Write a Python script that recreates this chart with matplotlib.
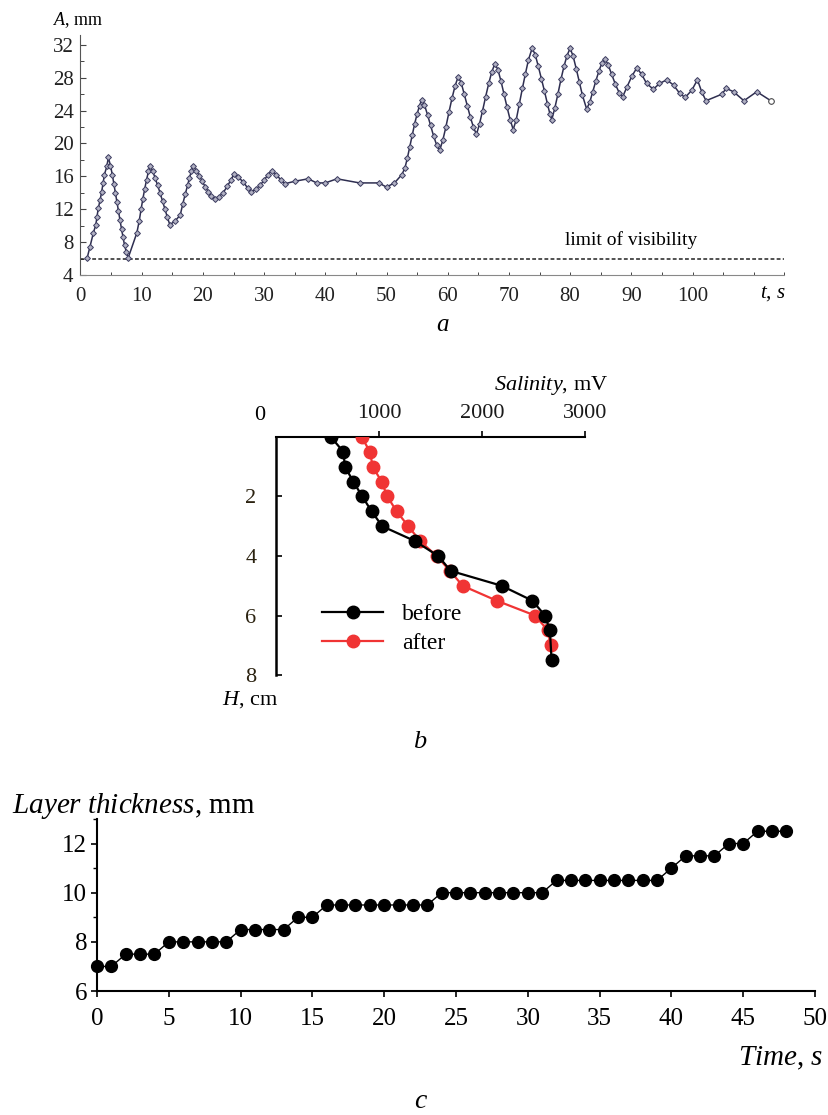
import matplotlib
matplotlib.use('Agg')
import matplotlib.pyplot as plt
from matplotlib.ticker import MultipleLocator

plt.rcParams['font.family'] = ['Liberation Serif', 'DejaVu Serif']
plt.rcParams['mathtext.fontset'] = 'custom'
plt.rcParams['mathtext.rm'] = 'Liberation Serif'
plt.rcParams['mathtext.it'] = 'Liberation Serif:italic'

# ---- panel a: amplitude vs time ----
t_a = [1.1, 1.55, 2.1, 2.5, 2.7, 2.9, 3.2, 3.45, 3.7, 3.9, 4.3, 4.55,
       4.9, 5.2, 5.45, 5.7, 5.95, 6.2, 6.45, 6.7, 6.95, 7.2, 7.5, 7.8,
       9.2, 9.6, 9.9, 10.2, 10.5, 10.8, 11.1, 11.4,
       11.8, 12.2, 12.6, 13.0, 13.4, 13.8, 14.2, 14.6,
       15.5, 16.3, 16.7, 17.1, 17.5, 17.8, 18.1, 18.4,
       18.9, 19.4, 19.9, 20.4, 20.9, 21.4, 21.9,
       22.6, 23.3, 24.0, 24.6, 25.1, 25.8, 26.6, 27.3, 27.9,
       28.6, 29.3, 30.0, 30.6, 31.3,
       32.0, 32.7, 33.4, 35.0, 37.2, 38.6, 40.0, 41.9, 45.6, 48.7, 50.0, 51.3, 52.5,
       53.0, 53.4, 53.8, 54.2, 54.6, 55.0, 55.4, 55.75,
       56.2, 56.7, 57.2, 57.7, 58.2, 58.7,
       59.2, 59.7, 60.2, 60.7, 61.2, 61.7,
       62.2, 62.7, 63.2, 63.7, 64.2, 64.7,
       65.2, 65.7, 66.2, 66.7, 67.2, 67.7,
       68.2, 68.7, 69.2, 69.7, 70.2, 70.7,
       71.2, 71.7, 72.2, 72.7, 73.2, 73.8,
       74.3, 74.8, 75.3, 75.8, 76.3, 76.7, 77.0,
       77.5, 78.0, 78.5, 79.0, 79.5, 80.0,
       80.5, 81.0, 81.5, 82.0, 82.7,
       83.2, 83.7, 84.2, 84.7, 85.2, 85.7,
       86.2, 86.8, 87.4, 88.0, 88.6,
       89.3, 90.1, 90.9, 91.7, 92.5, 93.6, 94.6, 95.8, 96.9, 97.9, 98.8,
       99.9, 100.8, 101.5, 102.2, 104.8, 105.5, 106.7, 108.4, 110.5, 112.8]
A_a = [6.1, 7.45, 9.1, 10.1, 11.1, 12.1, 13.1, 14.1, 15.2, 16.2, 17.2, 18.3,
       17.3, 16.2, 15.1, 14.0, 12.9, 11.8, 10.7, 9.6, 8.6, 7.6, 6.8, 6.1,
       9.1, 10.6, 12.0, 13.3, 14.5, 15.6, 16.6, 17.3,
       16.6, 15.8, 14.9, 14.0, 13.0, 12.0, 11.0, 10.1,
       10.6, 11.3, 12.6, 13.8, 14.9, 15.8, 16.6, 17.3,
       16.7, 16.1, 15.4, 14.7, 14.1, 13.6, 13.3,
       13.5, 14.0, 14.8, 15.6, 16.3, 15.9, 15.3, 14.6, 14.1,
       14.4, 14.9, 15.5, 16.2, 16.7,
       16.2, 15.6, 15.1, 15.4, 15.7, 15.2, 15.2, 15.7, 15.2, 15.2, 14.7, 15.2, 16.2,
       17.0, 18.2, 19.6, 21.0, 22.4, 23.6, 24.6, 25.3,
       24.7, 23.5, 22.2, 20.9, 19.8, 19.2,
       20.4, 22.0, 23.8, 25.5, 27.0, 28.1,
       27.4, 26.0, 24.6, 23.2, 22.0, 21.1,
       22.4, 24.0, 25.7, 27.3, 28.7, 29.7,
       29.0, 27.6, 26.0, 24.4, 22.9, 21.7,
       22.9, 24.8, 26.7, 28.5, 30.2, 31.6,
       30.8, 29.4, 27.9, 26.4, 24.8, 23.6, 22.9,
       24.3, 26.0, 27.8, 29.4, 30.7, 31.6,
       30.6, 29.1, 27.5, 25.9, 24.2,
       25.0, 26.3, 27.6, 28.8, 29.8, 30.3,
       29.6, 28.4, 27.2, 26.2, 25.7,
       26.9, 28.2, 29.2, 28.4, 27.3, 26.6, 27.3, 27.75, 27.1, 26.1, 25.6,
       26.5, 27.75, 26.3, 25.2, 26.0, 26.7, 26.3, 25.2, 26.3, 25.2]
visibility_limit = 6
a_xticks = [0, 10, 20, 30, 40, 50, 60, 70, 80, 90, 100]
a_yticks = [4, 8, 12, 16, 20, 24, 28, 32]

# ---- panel b: salinity profiles ----
depth_before = [0, 0.5, 1, 1.5, 2, 2.5, 3, 3.5, 4, 4.5, 5, 5.5, 6, 6.5, 7.5]
sal_before = [534, 654, 670, 751, 838, 929, 1032, 1350, 1576, 1696, 2191, 2489, 2612, 2660, 2676]
depth_after = [0, 0.5, 1, 1.5, 2, 2.5, 3, 3.5, 4, 4.5, 5, 5.5, 6, 6.5, 7]
sal_after = [832, 913, 939, 1026, 1081, 1172, 1285, 1400, 1560, 1690, 1812, 2142, 2515, 2640, 2667]
b_xticks = [1000, 2000, 3000]
b_yticks = [2, 4, 6, 8]

# ---- panel c: layer thickness ----
t_c = list(range(49))
thick_c = [7, 7, 7.5, 7.5, 7.5, 8, 8, 8, 8, 8, 8.5, 8.5, 8.5, 8.5, 9, 9,
           9.5, 9.5, 9.5, 9.5, 9.5, 9.5, 9.5, 9.5, 10, 10, 10, 10, 10, 10, 10, 10,
           10.5, 10.5, 10.5, 10.5, 10.5, 10.5, 10.5, 10.5, 11, 11.5, 11.5, 11.5,
           12, 12, 12.5, 12.5, 12.5]
c_xticks = [0, 5, 10, 15, 20, 25, 30, 35, 40, 45, 50]
c_yticks = [6, 8, 10, 12]

fig = plt.figure(figsize=(8.29, 11.15), dpi=100)

# panel a
ax = fig.add_axes([0.0971, 0.7534, 0.849, 0.2152])
ax.plot(t_a, A_a, color='#2e2e50', lw=1.1, marker='D', ms=3.0,
        mfc='#b0b0c2', mec='#3c3c60', mew=0.7, zorder=3)
ax.plot([112.8], [25.2], marker='o', ms=4, mfc='white', mec='#555555', mew=0.8, zorder=4)
ax.axhline(visibility_limit, color='#222222', lw=1.1, ls=(0, (2.5, 1.5)))
ax.set_xlim(0, 115)
ax.set_ylim(4, 33.2)
ax.set_xticks(a_xticks)
ax.set_yticks(a_yticks)
ax.xaxis.set_minor_locator(MultipleLocator(5))
ax.yaxis.set_minor_locator(MultipleLocator(2))
ax.tick_params(axis='both', which='both', direction='in', colors='#444444', labelcolor='#222222')
ax.tick_params(axis='y', which='major', length=4, width=0.8, labelsize=15, pad=5)
ax.tick_params(axis='y', which='minor', length=3, width=0.7)
ax.tick_params(axis='x', which='both', length=2, width=0.7, labelsize=15, pad=9)
for s in ['top', 'right']:
    ax.spines[s].set_visible(False)
ax.spines['left'].set_color('#555555')
ax.spines['bottom'].set_color('#888888')
ax.spines['bottom'].set_linewidth(0.8)
fig.text(0.0639, 0.9776, r'$A$, mm', fontsize=13, ha='left', va='baseline')
fig.text(0.9324, 0.7372, r'$t$, $s$', fontsize=15, ha='center', va='center')
fig.text(0.761, 0.7848, 'limit of visibility', fontsize=14, ha='center', va='center')
fig.text(0.5344, 0.7085, r'$a$', fontsize=18, ha='center', va='center')

# panel b
bx = fig.add_axes([0.3329, 0.3946, 0.3727, 0.2135])
bx.plot(sal_after, depth_after, color='#f03434', lw=1.6, marker='o', ms=9, label='after', zorder=3)
bx.plot(sal_before, depth_before, color='black', lw=1.6, marker='o', ms=9, label='before', zorder=4)
bx.set_xlim(0, 3000)
bx.set_ylim(8, 0)
bx.xaxis.tick_top()
bx.set_xticks(b_xticks)
bx.set_yticks(b_yticks)
bx.tick_params(axis='x', direction='out', length=4, width=1.2, labelsize=16, pad=6, labelcolor='#1a1a1a')
bx.tick_params(axis='y', direction='in', length=4, width=1.2, labelsize=16, pad=14, labelcolor='#2b2210')
for s in ['bottom', 'right']:
    bx.spines[s].set_visible(False)
bx.spines['top'].set_linewidth(1.5)
bx.spines['left'].set_linewidth(1.8)
h, l = bx.get_legend_handles_labels()
bx.legend([h[1], h[0]], [l[1], l[0]], loc='lower left', bbox_to_anchor=(0.08, 0.0),
          frameon=False, fontsize=17, handlelength=2.6, labelspacing=0.3, handletextpad=0.8)
fig.text(0.3136, 0.6278, '0', fontsize=16, ha='center', va='center')
fig.text(0.7334, 0.6547, r'$Salinity$, mV', fontsize=16, ha='right', va='center')
fig.text(0.3016, 0.3722, r'$H$, cm', fontsize=16, ha='center', va='center')
fig.text(0.5066, 0.3345, r'$b$', fontsize=19, ha='center', va='center')

# panel c
cx = fig.add_axes([0.117, 0.1112, 0.8661, 0.1543])
cx.plot(t_c, thick_c, color='black', lw=1.0, marker='o', ms=8.5, zorder=3, clip_on=False)
cx.set_xlim(0, 50)
cx.set_ylim(6, 13)
cx.set_xticks(c_xticks)
cx.set_yticks(c_yticks)
cx.yaxis.set_minor_locator(MultipleLocator(1))
cx.tick_params(axis='both', which='major', direction='out', length=4, width=1.2, labelsize=18)
cx.tick_params(axis='y', which='minor', direction='out', length=3, width=1.0)
cx.tick_params(axis='x', pad=8)
cx.tick_params(axis='y', pad=3)
for s in ['top', 'right']:
    cx.spines[s].set_visible(False)
cx.spines['left'].set_linewidth(1.5)
cx.spines['bottom'].set_linewidth(1.5)
fig.text(0.0145, 0.2711, r'$Layer\ thickness$, mm', fontsize=21, ha='left', va='baseline')
fig.text(0.9928, 0.0511, r'$Time$, $s$', fontsize=21, ha='right', va='center')
fig.text(0.508, 0.0125, r'$c$', fontsize=20, ha='center', va='center')

fig.savefig('out.png', dpi=100)
